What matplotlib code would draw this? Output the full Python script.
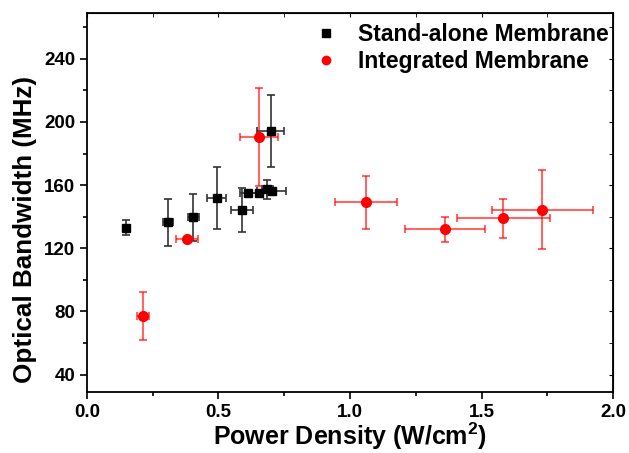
import matplotlib
matplotlib.use("Agg")
import matplotlib.pyplot as plt
from matplotlib.lines import Line2D
from matplotlib.ticker import MultipleLocator

plt.rcParams['font.family'] = ['Liberation Sans', 'DejaVu Sans']
plt.rcParams['font.weight'] = 'bold'
plt.rcParams['mathtext.fontset'] = 'custom'
plt.rcParams['mathtext.rm'] = 'Liberation Sans:bold'
plt.rcParams['mathtext.bf'] = 'Liberation Sans:bold'

# Stand-alone membrane
sa_x = [0.15, 0.308, 0.404, 0.494, 0.589, 0.613, 0.654, 0.686, 0.702, 0.698]
sa_y = [133, 136.5, 139.5, 151.7, 144.1, 154.7, 154.7, 157.3, 156.2, 194.3]
sa_xerr = [0.0, 0.02, 0.02, 0.036, 0.043, 0.03, 0.03, 0.02, 0.055, 0.05]
sa_yerr = [4.7, 15, 15, 19.6, 14, 2, 2, 6, 2, 23]

# Integrated membrane
in_x = [0.214, 0.381, 0.654, 1.06, 1.361, 1.583, 1.73]
in_y = [77, 125.7, 190.7, 149, 132.1, 138.9, 144.4]
in_xerr = [0.023, 0.042, 0.073, 0.118, 0.151, 0.177, 0.192]
in_yerr = [15, 1, 31, 17, 8, 12.4, 25]

fig = plt.figure(figsize=(6.29, 4.53), dpi=100)
ax = fig.add_axes([0.1383, 0.1347, 0.8363, 0.8366])

ax.errorbar(sa_x, sa_y, xerr=sa_xerr, yerr=sa_yerr, fmt='s', color='black',
            ecolor='#333333', ms=6, capsize=3, elinewidth=1.2, capthick=1.2)
ax.errorbar(in_x, in_y, xerr=in_xerr, yerr=in_yerr, fmt='o', color='red',
            ecolor=(1, 0, 0, 0.6), ms=7, capsize=3, elinewidth=1.5, capthick=1.5)

ax.set_xlim(0, 2.0)
ax.set_ylim(29, 269)
ax.set_xticks([0, 0.5, 1.0, 1.5, 2.0])
ax.set_xticklabels(['0.0', '0.5', '1.0', '1.5', '2.0'])
ax.xaxis.set_minor_locator(MultipleLocator(0.25))
ax.set_yticks([40, 80, 120, 160, 200, 240])
ax.yaxis.set_minor_locator(MultipleLocator(20))

ax.tick_params(which='both', direction='out', labelsize=13.5, width=1.2)
ax.tick_params(which='major', length=5)
ax.tick_params(which='minor', length=3)
for s in ax.spines.values():
    s.set_linewidth(1.3)

# top / right ticks without labels
axt = ax.secondary_xaxis('top')
axt.set_xticks([0, 0.5, 1.0, 1.5, 2.0], labels=[])
axt.xaxis.set_minor_locator(MultipleLocator(0.25))
axt.tick_params(which='both', direction='in', length=3)
axr = ax.secondary_yaxis('right')
axr.set_yticks([40, 80, 120, 160, 200, 240], labels=[])
axr.yaxis.set_minor_locator(MultipleLocator(20))
axr.tick_params(which='both', direction='in', length=3)

ax.set_xlabel(r'Power Density (W/cm$^{\mathbf{2}}$)', fontsize=18, fontweight='bold')
ax.xaxis.set_label_coords(0.5, -0.075, transform=ax.transAxes)
ax.xaxis.label.set_va('top')
ax.set_ylabel('Optical Bandwidth (MHz)', fontsize=18.7, fontweight='bold')
ax.yaxis.set_label_coords(-0.118, 0.43)
ax.yaxis.label.set_va('center')

handles = [Line2D([], [], ls='none', marker='s', color='black', ms=6),
           Line2D([], [], ls='none', marker='o', color='red', ms=6)]
ax.legend(handles, ['Stand-alone Membrane', 'Integrated Membrane'],
          loc='upper right', bbox_to_anchor=(1.012, 1.0), frameon=False,
          fontsize=16.5, handletextpad=0.9, handlelength=1.0,
          borderaxespad=0.0, borderpad=0.45, labelspacing=0.15)

fig.savefig('out.png', dpi=100)
